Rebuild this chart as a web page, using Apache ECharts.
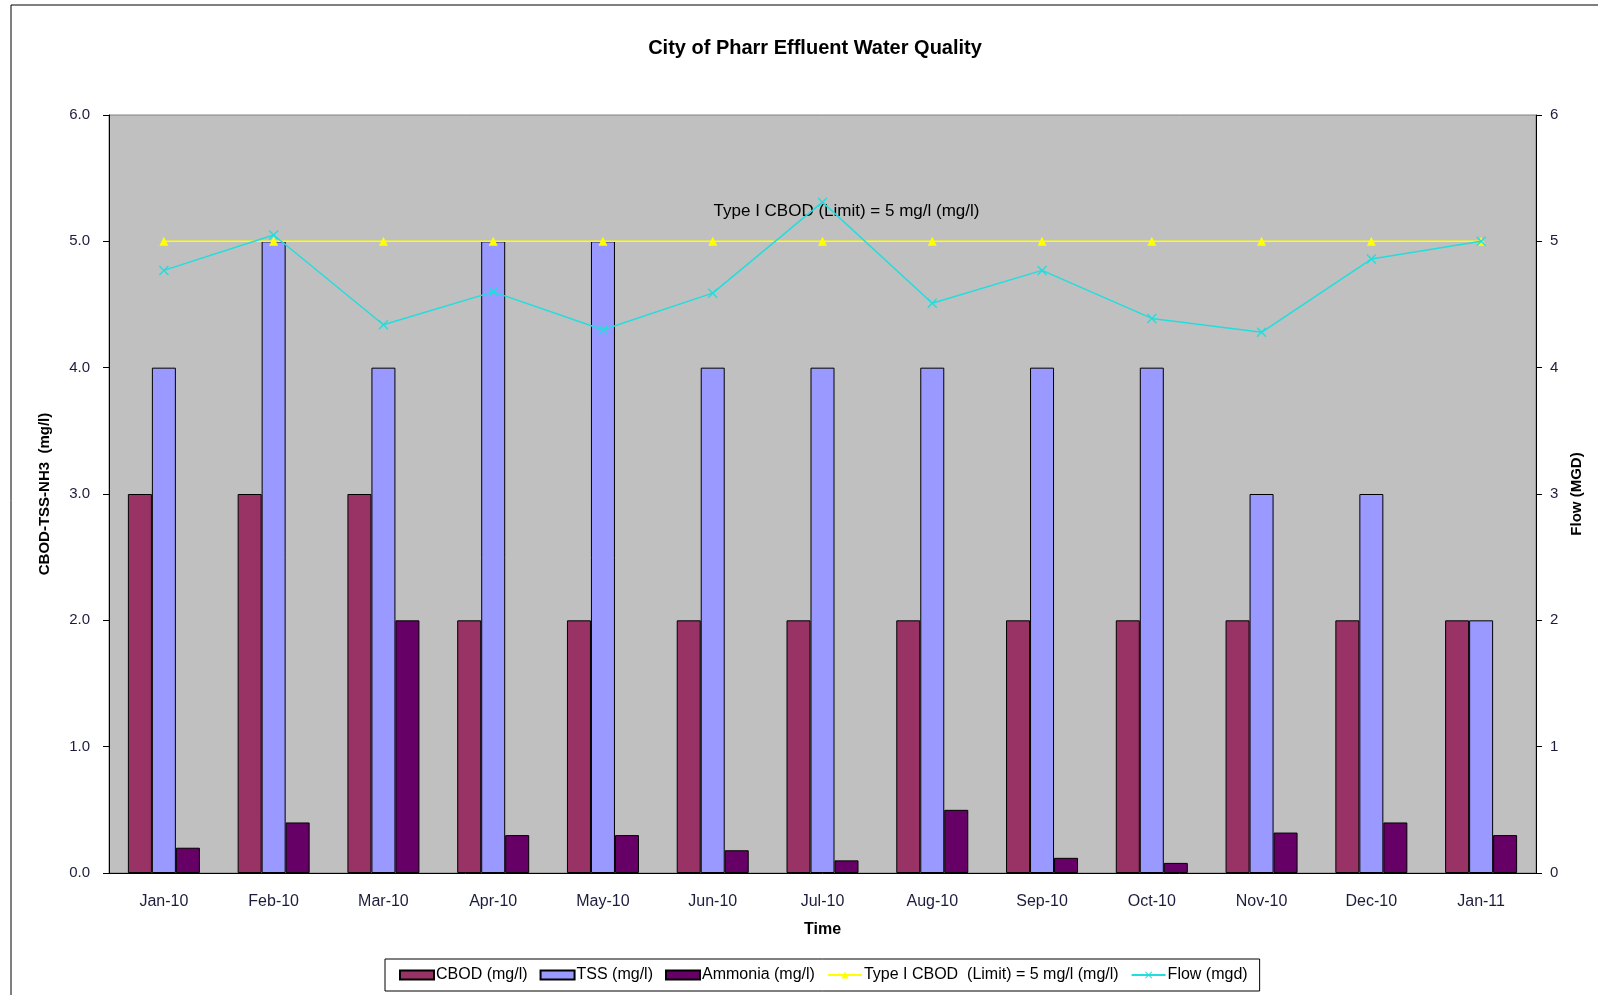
<!DOCTYPE html>
<html>
<head>
<meta charset="utf-8" />
<title>City of Pharr Effluent Water Quality</title>
<script src="https://cdn.jsdelivr.net/npm/echarts@6/dist/echarts.min.js"></script>
<style>
  html, body { margin: 0; padding: 0; background: #fff; }
  #main { width: 1598px; height: 995px; }
</style>
</head>
<body>
<div id="main"></div>
<script type="text/javascript">
// data
var months = ['Jan-10', 'Feb-10', 'Mar-10', 'Apr-10', 'May-10', 'Jun-10', 'Jul-10',
              'Aug-10', 'Sep-10', 'Oct-10', 'Nov-10', 'Dec-10', 'Jan-11'];
var cbod    = [3, 3, 3, 2, 2, 2, 2, 2, 2, 2, 2, 2, 2];
var tss     = [4, 5, 4, 5, 5, 4, 4, 4, 4, 4, 3, 3, 2];
var ammonia = [0.2, 0.4, 2.0, 0.3, 0.3, 0.18, 0.1, 0.5, 0.12, 0.08, 0.32, 0.4, 0.3];
var limit   = [5, 5, 5, 5, 5, 5, 5, 5, 5, 5, 5, 5, 5];
var flow    = [4.77, 5.05, 4.34, 4.6, 4.3, 4.59, 5.31, 4.51, 4.77, 4.39, 4.28, 4.86, 5.0];

var font = 'Liberation Sans, Arial, sans-serif';
var labelColor = '#1c1c3c';
var xMark = 'path://M0,1L1,0L5,4L9,0L10,1L6,5L10,9L9,10L5,6L1,10L0,9L4,5Z';

// only the Jul-10 point carries the limit label
var limitData = limit.map(function (v, i) {
    if (i === 6) {
        return { value: v, label: { show: true } };
    }
    return v;
});

var myChart = echarts.init(document.getElementById('main'));

var option = {
    animation: false,
    textStyle: { fontFamily: font },
    title: {
        text: 'City of Pharr Effluent Water Quality',
        left: 810,
        top: 33,
        textAlign: 'center',
        textStyle: { fontSize: 20, fontWeight: 'bold', color: '#000', fontFamily: font }
    },
    graphic: [{
        type: 'rect',
        shape: { x: 11, y: 5, width: 1700, height: 1100 },
        style: { fill: 'none', stroke: '#000', lineWidth: 1 },
        silent: true
    }],
    legend: {
        left: 385,
        bottom: 4,
        padding: [8, 12, 8, 14],
        borderColor: '#000',
        borderWidth: 1,
        itemGap: 12,
        itemWidth: 34,
        itemHeight: 9,
        textStyle: { fontSize: 16, color: '#000', fontFamily: font, padding: [0, 0, 0, -3] },
        data: [
            { name: 'CBOD (mg/l)', icon: 'rect' },
            { name: 'TSS (mg/l)', icon: 'rect' },
            { name: 'Ammonia (mg/l)', icon: 'rect' },
            { name: 'Type I CBOD  (Limit) = 5 mg/l (mg/l)' },
            { name: 'Flow (mgd)' }
        ]
    },
    grid: {
        left: 109,
        right: 62,
        top: 115,
        bottom: 122,
        show: true,
        backgroundColor: '#C0C0C0',
        borderColor: '#808080',
        borderWidth: 1
    },
    xAxis: {
        type: 'category',
        data: months,
        name: 'Time',
        nameLocation: 'middle',
        nameGap: 49,
        nameTextStyle: { fontSize: 16, fontWeight: 'bold', color: '#000' },
        axisLine: { lineStyle: { color: '#000', width: 1 } },
        axisTick: { length: 7, lineStyle: { color: '#000' } },
        axisLabel: { fontSize: 16, color: labelColor, margin: 21 }
    },
    yAxis: [{
        type: 'value',
        min: 0,
        max: 6,
        interval: 1,
        name: 'CBOD-TSS-NH3  (mg/l)',
        nameLocation: 'middle',
        nameGap: 57,
        nameTextStyle: { fontSize: 15, fontWeight: 'bold', color: '#000' },
        axisLine: { show: true, lineStyle: { color: '#000' } },
        axisTick: { show: true, length: 6, lineStyle: { color: '#000' } },
        splitLine: { show: false },
        axisLabel: {
            fontSize: 15,
            color: labelColor,
            margin: 19,
            formatter: function (v) { return v.toFixed(1); }
        }
    }, {
        type: 'value',
        min: 0,
        max: 6,
        interval: 1,
        position: 'right',
        name: 'Flow (MGD)',
        nameLocation: 'middle',
        nameGap: 30,
        nameRotate: 90,
        nameTextStyle: { fontSize: 15, fontWeight: 'bold', color: '#000' },
        axisLine: { show: true, lineStyle: { color: '#000' } },
        axisTick: { show: true, length: 6, lineStyle: { color: '#000' } },
        splitLine: { show: false },
        axisLabel: { fontSize: 15, color: labelColor, margin: 14 }
    }],
    series: [{
        name: 'CBOD (mg/l)',
        type: 'bar',
        data: cbod,
        barWidth: 24,
        barGap: '0%',
        itemStyle: { color: '#993366', borderColor: '#000', borderWidth: 1 }
    }, {
        name: 'TSS (mg/l)',
        type: 'bar',
        data: tss,
        barWidth: 24,
        barGap: '0%',
        itemStyle: { color: '#9999FF', borderColor: '#000', borderWidth: 1 }
    }, {
        name: 'Ammonia (mg/l)',
        type: 'bar',
        data: ammonia,
        barWidth: 24,
        barGap: '0%',
        itemStyle: { color: '#660066', borderColor: '#000', borderWidth: 1 }
    }, {
        name: 'Type I CBOD  (Limit) = 5 mg/l (mg/l)',
        type: 'line',
        data: limitData,
        symbol: 'triangle',
        symbolSize: 9,
        lineStyle: { color: '#FFFF00', width: 1.5 },
        itemStyle: { color: '#FFFF00' },
        label: {
            show: false,
            position: 'top',
            offset: [24, -12],
            fontSize: 17,
            color: '#000',
            formatter: function (p) { return p.seriesName.replace('  ', ' '); }
        },
        z: 3
    }, {
        name: 'Flow (mgd)',
        type: 'line',
        yAxisIndex: 1,
        data: flow,
        symbol: xMark,
        symbolSize: 10,
        lineStyle: { color: '#22DDDD', width: 1.5 },
        itemStyle: { color: '#22DDDD' },
        z: 4
    }]
};

myChart.setOption(option);
</script>
</body>
</html>
